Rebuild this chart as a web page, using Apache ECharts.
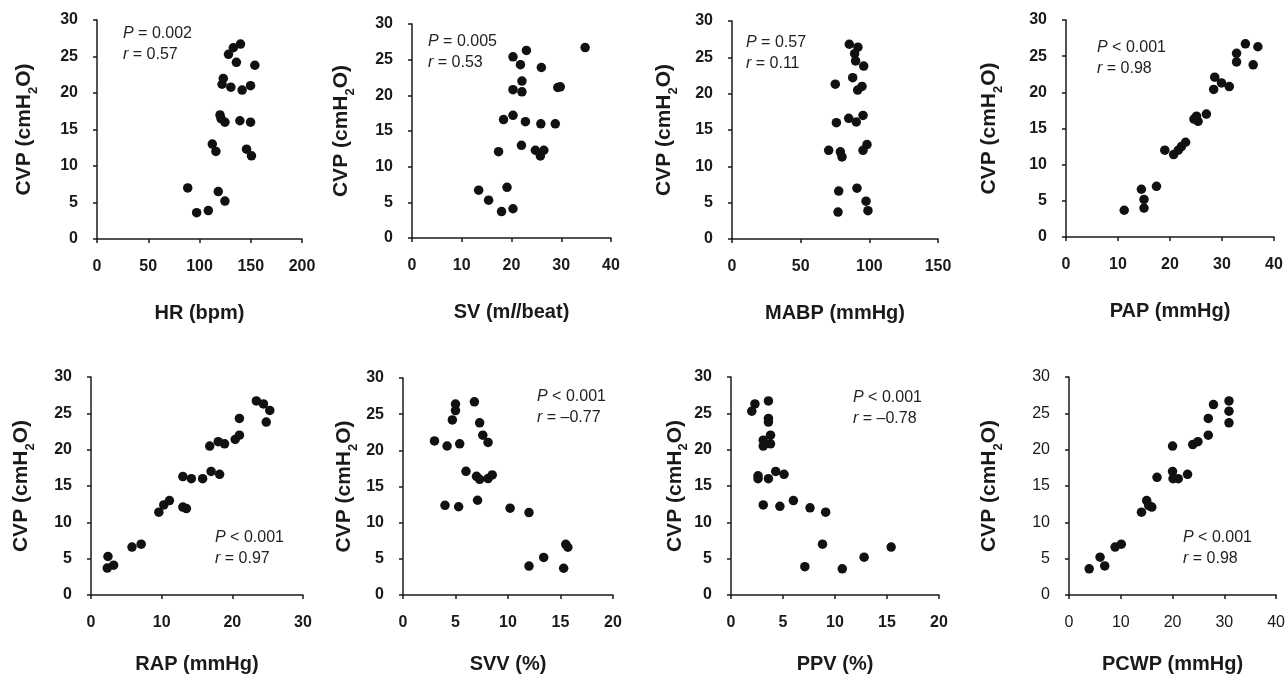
<!DOCTYPE html>
<html><head><meta charset="utf-8">
<script src="https://cdn.jsdelivr.net/npm/echarts@6/dist/echarts.min.js"></script>
<style>html,body{margin:0;padding:0;background:#fff}#c{width:1288px;height:675px}</style>
</head><body><div id="c"></div>
<script>
// ---- data (x, CVP) ----
const hrData=[[88.5,7.0],[97.2,3.6],[108.6,3.9],[118.3,6.5],[124.8,5.2],[112.5,13.0],[116,12.0],[120,17.0],[121,16.5],[124.8,16.0],[123.2,22.0],[122,21.2],[130.6,20.8],[128.3,25.3],[133,26.2],[140,26.7],[136,24.2],[154,23.8],[141.6,20.4],[149.8,21.0],[139.4,16.2],[149.8,16.0],[145.9,12.3],[150.7,11.4]];
const svData=[[13.4,6.7],[15.4,5.3],[18.0,3.7],[20.3,4.1],[19.1,7.1],[17.4,12.1],[18.4,16.6],[20.3,17.2],[22.8,16.3],[25.9,16.0],[28.8,16.0],[22.0,13.0],[24.8,12.3],[26.5,12.3],[25.8,11.5],[20.3,20.8],[22.1,20.5],[22.1,22.0],[21.8,24.3],[20.3,25.4],[23.0,26.3],[26.0,23.9],[29.3,21.1],[29.8,21.2],[34.8,26.7]];
const mabpData=[[77.2,3.7],[77.7,6.6],[91.0,7.0],[97.6,5.2],[99.0,3.9],[70.4,12.2],[78.9,12.0],[80.1,11.3],[95.4,12.2],[98.3,13.0],[76.0,16.0],[85.0,16.6],[90.5,16.1],[95.4,17.0],[75.2,21.3],[87.9,22.2],[91.5,20.5],[94.7,21.0],[85.4,26.8],[91.7,26.4],[89.3,25.5],[90.0,24.5],[95.9,23.8]];
const papData=[[11.2,3.7],[14.5,6.6],[15.0,5.2],[15.0,4.0],[17.4,7.0],[19.0,12.0],[20.7,11.4],[21.6,12.0],[22.2,12.5],[23.0,13.1],[24.6,16.3],[25.1,16.7],[25.4,16.0],[27.0,17.0],[28.6,22.1],[28.4,20.4],[29.9,21.3],[31.4,20.8],[32.8,25.4],[32.8,24.2],[34.5,26.7],[36.9,26.3],[36.0,23.8]];
const rapData=[[2.3,3.7],[3.2,4.1],[2.4,5.3],[5.8,6.6],[7.1,7.0],[9.6,11.4],[10.3,12.4],[11.1,13.0],[13.0,12.1],[13.5,11.9],[13.0,16.3],[14.2,16.0],[15.8,16.0],[17.0,17.0],[18.2,16.6],[16.8,20.5],[18.0,21.1],[18.9,20.8],[20.4,21.4],[21.0,22.0],[21.0,24.3],[23.4,26.7],[24.4,26.3],[25.3,25.4],[24.8,23.8]];
const svvData=[[6.8,26.7],[5.0,26.4],[5.0,25.5],[4.7,24.2],[7.3,23.8],[3.0,21.3],[4.2,20.6],[5.4,20.9],[7.6,22.1],[8.1,21.1],[6.0,17.1],[7.0,16.4],[7.3,16.0],[8.1,16.1],[8.5,16.6],[4.0,12.4],[5.3,12.2],[7.1,13.1],[10.2,12.0],[12.0,11.4],[15.5,7.0],[15.7,6.6],[13.4,5.2],[12.0,4.0],[15.3,3.7]];
const ppvData=[[2.0,25.3],[2.3,26.3],[3.6,26.7],[3.6,24.3],[3.6,23.8],[3.8,22.0],[3.1,21.3],[3.1,20.5],[3.8,20.8],[2.6,16.4],[2.6,16.0],[3.6,16.0],[4.3,17.0],[5.1,16.6],[3.1,12.4],[4.7,12.2],[6.0,13.0],[7.6,12.0],[9.1,11.4],[8.8,7.0],[7.1,3.9],[10.7,3.6],[12.8,5.2],[15.4,6.6]];
const pcwpData=[[3.9,3.6],[6.0,5.2],[6.9,4.0],[8.9,6.6],[10.1,7.0],[14.0,11.4],[15.0,13.0],[15.4,12.3],[16.0,12.1],[17.0,16.2],[20.0,20.5],[20.0,17.0],[20.1,16.0],[21.1,16.0],[22.9,16.6],[23.9,20.7],[24.9,21.1],[26.9,22.0],[26.9,24.3],[27.9,26.2],[30.9,26.7],[30.9,25.3],[30.9,23.7]];

const xNames=['HR (bpm)','SV (m{it|l}/beat)','MABP (mmHg)','PAP (mmHg)','RAP (mmHg)','SVV (%)','PPV (%)','PCWP (mmHg)'];
const xMax=[200,40,150,40,30,20,20,40];
const xInterval=[50,10,50,10,10,5,5,10];
const pVals=['= 0.002','= 0.005','= 0.57','< 0.001','< 0.001','< 0.001','< 0.001','< 0.001'];
const rVals=['= 0.57','= 0.53','= 0.11','= 0.98','= 0.97','= –0.77','= –0.78','= 0.98'];
const datasets=[hrData,svData,mabpData,papData,rapData,svvData,ppvData,pcwpData];

// ---- layout ----
const grids=[[97,20,205,219],[412,24,199,214],[732,21,206,218],[1066,20,208,217],[91,377,212,220],[403,378,210,221],[731,377,208,220],[1069,377,210,220]];
const yGap=[59,57,54,63,56,45,39,66];
const xGap=[64,64,64,64,59,59,59,59];
const annot=[[123,23],[428,31],[746,32],[1097,37],[215,527],[537,386],[853,387],[1183,527]];

const FONT='"Liberation Sans", Arial, sans-serif';
const ink='#1a1a1a';
const option={backgroundColor:'#fff',animation:false,grid:[],xAxis:[],yAxis:[],series:[],title:[]};
for(let i=0;i<8;i++){
  const g=grids[i];
  const lw = i===7 ? 'normal':'bold';
  option.grid.push({left:g[0],top:g[1],width:g[2],height:g[3],containLabel:false});
  option.xAxis.push({type:'value',gridIndex:i,min:0,max:xMax[i],interval:xInterval[i],
    name:xNames[i],nameLocation:'middle',nameGap:xGap[i],
    nameTextStyle:{fontFamily:FONT,fontWeight:'bold',fontSize:20,color:ink,rich:{it:{fontFamily:FONT,fontWeight:'bold',fontStyle:'italic',fontSize:20,color:ink}}},
    axisLine:{show:true,onZero:false,lineStyle:{color:ink,width:1.5}},
    axisTick:{show:true,length:4,lineStyle:{color:ink,width:1.5}},
    axisLabel:{margin:20,fontFamily:FONT,fontWeight:lw,fontSize:16,color:ink},
    splitLine:{show:false}});
  option.yAxis.push({type:'value',gridIndex:i,min:0,max:30,interval:5,
    name:'{a|CVP (cmH}{s|2}{a|O)}',nameLocation:'middle',nameGap:yGap[i],nameRotate:90,
    nameTextStyle:{rich:{a:{fontFamily:FONT,fontWeight:'bold',fontSize:21,color:ink,verticalAlign:'top',lineHeight:24},
      s:{fontFamily:FONT,fontWeight:'bold',fontSize:13,color:ink,verticalAlign:'top',lineHeight:13,padding:[13,0,0,0]}}},
    axisLine:{show:true,onZero:false,lineStyle:{color:ink,width:1.5}},
    axisTick:{show:true,length:4,lineStyle:{color:ink,width:1.5}},
    axisLabel:{margin:19,fontFamily:FONT,fontWeight:lw,fontSize:16,color:ink},
    splitLine:{show:false}});
  option.series.push({type:'scatter',xAxisIndex:i,yAxisIndex:i,data:datasets[i],symbolSize:9.5,
    itemStyle:{color:'#111',opacity:1}});
  option.title.push({left:annot[i][0],top:annot[i][1],padding:0,
    text:'{i|P}{n| '+pVals[i]+'}\n{i|r}{n| '+rVals[i]+'}',
    textStyle:{fontFamily:FONT,fontWeight:'normal',fontSize:16,color:'#222',lineHeight:21,
      rich:{i:{fontFamily:FONT,fontWeight:'normal',fontStyle:'italic',fontSize:16,color:'#222',lineHeight:21},
            n:{fontFamily:FONT,fontWeight:'normal',fontSize:16,color:'#222',lineHeight:21}}}});
}
const chart=echarts.init(document.getElementById('c'),null,{renderer:'canvas'});
chart.setOption(option);
</script></body></html>
